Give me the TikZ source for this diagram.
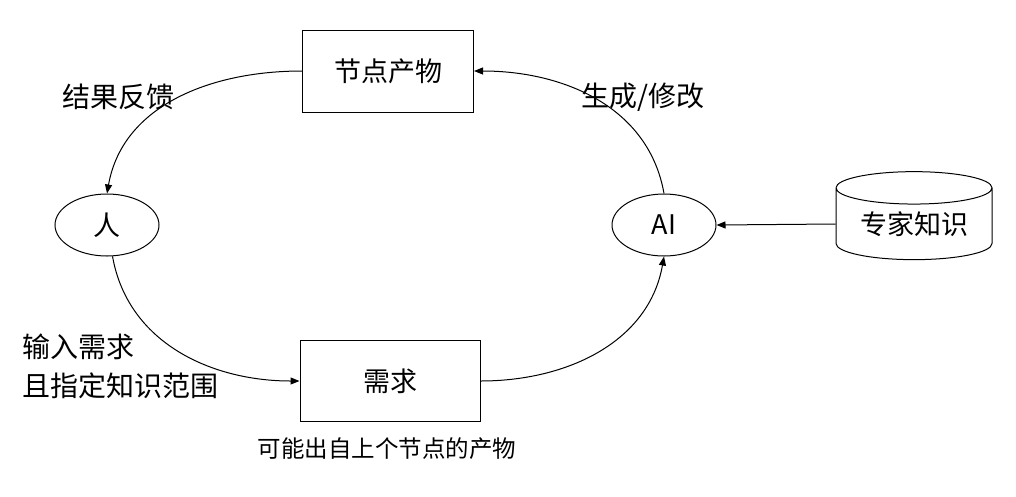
\documentclass[tikz,border=0pt]{standalone}
\usepackage{fontspec}
\setmainfont{Noto Sans CJK SC}
\usetikzlibrary{shapes.geometric,arrows.meta}
\begin{document}
\begin{tikzpicture}[x=1pt,y=-1pt,
  box/.style={draw,line width=1pt,minimum width=171pt,minimum height=82pt,font=\fontsize{27}{30}\selectfont},
  ell/.style={draw,ellipse,line width=1pt,minimum width=104pt,minimum height=62pt,inner sep=0pt,font=\fontsize{27}{30}\selectfont},
  lab/.style={font=\fontsize{28}{32}\selectfont},
  conn/.style={draw,line width=1pt,-{Triangle[length=9pt,width=7pt]}}]
\useasboundingbox (0,0) rectangle (1016,496);
\node[box] (out) at (388,71) {节点产物};
\node[box,minimum width=180pt,minimum height=81pt] (req) at (390,381) {需求};
\node[ell] (p) at (107,225) {人};
\node[ell] (ai) at (664,225) {AI};
\node[draw,line width=1pt,cylinder,shape border rotate=90,aspect=0.3,minimum width=156pt,minimum height=88pt,inner sep=0pt,font=\fontsize{27}{30}\selectfont] (kb) at (914,224) {专家知识};
\node[lab] at (118,97) {结果反馈};
\node[lab] at (643,97) {生成/修改};
\node[lab,anchor=west,inner sep=0pt] at (22,347) {输入需求};
\node[lab,anchor=west,inner sep=0pt] at (22,386) {且指定知识范围};
\node[font=\fontsize{23.5}{26}\selectfont] at (387,449) {可能出自上个节点的产物};
\draw[conn] (out.west) to[out=180,in=80] (p.north);
\draw[conn] (p.-80) to[out=-80,in=180] (req.west);
\draw[conn] (req.east) to[out=0,in=-100] (ai.south);
\draw[conn] (ai.north) to[out=100,in=0] (out.east);
\draw[conn] (kb.west) -- (ai.east);
\end{tikzpicture}
\end{document}
